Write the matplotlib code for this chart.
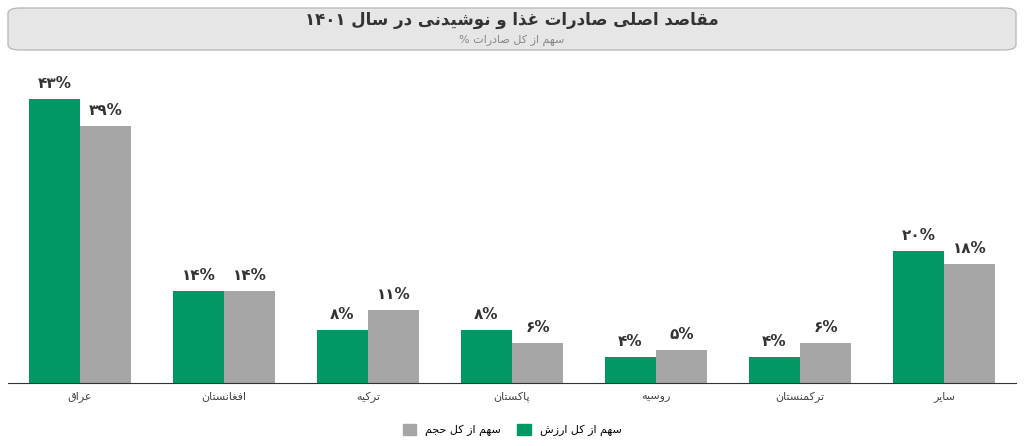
import matplotlib
matplotlib.use("Agg")
import matplotlib.pyplot as plt
from matplotlib.patches import FancyBboxPatch, Patch

FORMS = {
 'ا':(0xFE8D,0xFE8E,None,None),'ب':(0xFE8F,0xFE90,0xFE91,0xFE92),'پ':(0xFB56,0xFB57,0xFB58,0xFB59),
 'ت':(0xFE95,0xFE96,0xFE97,0xFE98),'ج':(0xFE9D,0xFE9E,0xFE9F,0xFEA0),'ح':(0xFEA1,0xFEA2,0xFEA3,0xFEA4),
 'د':(0xFEA9,0xFEAA,None,None),'ذ':(0xFEAB,0xFEAC,None,None),'ر':(0xFEAD,0xFEAE,None,None),
 'ز':(0xFEAF,0xFEB0,None,None),'س':(0xFEB1,0xFEB2,0xFEB3,0xFEB4),'ش':(0xFEB5,0xFEB6,0xFEB7,0xFEB8),
 'ص':(0xFEB9,0xFEBA,0xFEBB,0xFEBC),'ع':(0xFEC9,0xFECA,0xFECB,0xFECC),'غ':(0xFECD,0xFECE,0xFECF,0xFED0),
 'ف':(0xFED1,0xFED2,0xFED3,0xFED4),'ق':(0xFED5,0xFED6,0xFED7,0xFED8),'ک':(0xFB8E,0xFB8F,0xFB90,0xFB91),
 'ل':(0xFEDD,0xFEDE,0xFEDF,0xFEE0),'م':(0xFEE1,0xFEE2,0xFEE3,0xFEE4),'ن':(0xFEE5,0xFEE6,0xFEE7,0xFEE8),
 'و':(0xFEED,0xFEEE,None,None),'ه':(0xFEE9,0xFEEA,0xFEEB,0xFEEC),'ی':(0xFBFC,0xFBFD,0xFBFE,0xFBFF),
}
def shape(s):
    out = []
    for i, c in enumerate(s):
        if c not in FORMS:
            out.append(c); continue
        f = FORMS[c]
        prev = s[i-1] if i > 0 else ''
        nxt = s[i+1] if i+1 < len(s) else ''
        jp = prev in FORMS and FORMS[prev][2] is not None
        jn = nxt in FORMS and f[2] is not None
        if jp and jn: code = f[3]
        elif jp: code = f[1]
        elif jn: code = f[2]
        else: code = f[0]
        out.append(chr(code))
    return ''.join(out)[::-1]

categories = ['عراق', 'افغانستان', 'ترکیه', 'پاکستان', 'روسیه', 'ترکمنستان', 'سایر']
value_share = [43, 14, 8, 8, 4, 4, 20]
volume_share = [39, 14, 11, 6, 5, 6, 18]
series_names = ['سهم از کل ارزش', 'سهم از کل حجم']
title = 'مقاصد اصلی صادرات غذا و نوشیدنی در سال'
title_year = '۱۴۰۱'
subtitle = 'سهم از کل صادرات'

def fa(n):
    return str(n).translate(str.maketrans('0123456789', '۰۱۲۳۴۵۶۷۸۹')) + '%'

plt.rcParams['font.family'] = ['DejaVu Sans']
W, H = 1024, 446
fig = plt.figure(figsize=(W/100, H/100), dpi=100)
ax = fig.add_axes([8/W, (H-383)/H, 1008/W, (383-70)/H])
green, gray = '#009966', '#a6a6a6'
bw = 51/144
x = list(range(len(categories)))
ax.bar([i - bw/2 for i in x], value_share, bw, color=green)
ax.bar([i + bw/2 for i in x], volume_share, bw, color=gray)
for i in x:
    ax.text(i - bw/2, value_share[i] + 1.2, fa(value_share[i]), ha='center', va='bottom', fontsize=11, fontweight='bold', color='#333333')
    ax.text(i + bw/2, volume_share[i] + 1.2, fa(volume_share[i]), ha='center', va='bottom', fontsize=11, fontweight='bold', color='#333333')
ax.set_xlim(-0.5, 6.5)
ax.set_ylim(0, (383-70)/6.6)
ax.set_xticks(x)
ax.set_xticklabels([shape(c) for c in categories], fontsize=8, color='#444444')
ax.tick_params(axis='x', length=0, pad=6)
ax.set_yticks([])
for s in ['top', 'right', 'left']:
    ax.spines[s].set_visible(False)
ax.spines['bottom'].set_color('#333333')

box = FancyBboxPatch((8/W, (H-50)/H), 1008/W, 42/H, boxstyle='round,pad=0,rounding_size=0.012',
                     transform=fig.transFigure, facecolor='#e6e6e6', edgecolor='#bbbbbb', linewidth=1)
fig.patches.append(box)
fig.text(0.5, (H-20)/H, title_year + ' ' + shape(title), ha='center', va='center', fontsize=12, fontweight='bold', color='#333333')
fig.text(0.5, (H-40)/H, '% ' + shape(subtitle), ha='center', va='center', fontsize=8, color='#888888')

handles = [Patch(color=gray), Patch(color=green)]
fig.legend(handles, [shape(series_names[1]), shape(series_names[0])], loc='center', bbox_to_anchor=(0.5, (H-430)/H),
           ncol=2, frameon=False, fontsize=8, handlelength=1.2, handleheight=1.2, columnspacing=1.5)
fig.savefig('out.png', dpi=100)
